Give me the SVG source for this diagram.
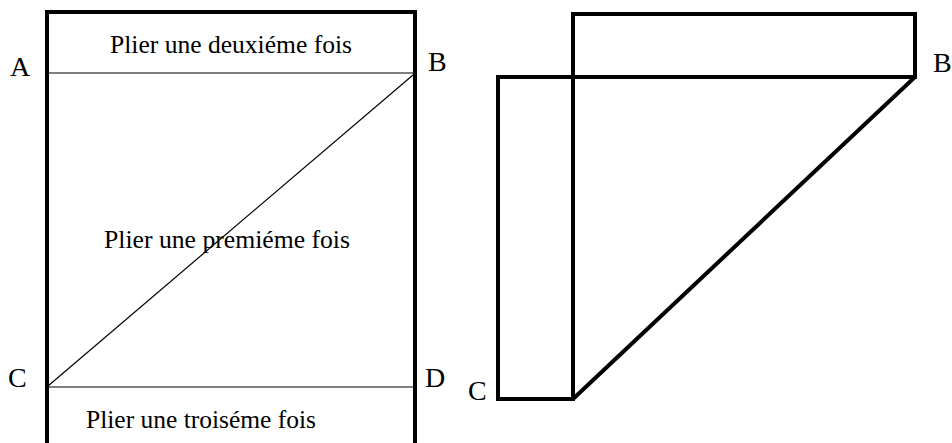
<svg xmlns="http://www.w3.org/2000/svg" width="952" height="443" viewBox="0 0 952 443">
<style>
.t{font-family:"Liberation Serif","Times New Roman",serif;fill:#000}
.lbl{font-size:28px}
.cap{font-size:25px}
.thick{stroke:#000;stroke-width:4;fill:none;stroke-linejoin:miter}
.thin{stroke:#000;stroke-width:1.2;fill:none}
</style>
<rect width="952" height="443" fill="#fff"/>
<g id="sheet">
<path class="thick" d="M47,445 V12 H415 V445"/>
<line class="thin" x1="47" y1="73" x2="415" y2="73"/>
<line class="thin" x1="47" y1="387" x2="415" y2="387" stroke-width="1.6"/>
<line class="thin" x1="48" y1="386" x2="413" y2="75" stroke-width="1"/>
<text class="t cap" x="110" y="53" textLength="242" lengthAdjust="spacingAndGlyphs">Plier une deuxiéme fois</text>
<text class="t cap" x="104" y="248" textLength="246" lengthAdjust="spacingAndGlyphs">Plier une premiéme fois</text>
<text class="t cap" x="86" y="428" textLength="230" lengthAdjust="spacingAndGlyphs">Plier une troiséme fois</text>
<text class="t lbl" x="10" y="76">A</text>
<text class="t lbl" x="428" y="71">B</text>
<text class="t lbl" x="8" y="387">C</text>
<text class="t lbl" x="425" y="387">D</text>
</g>
<g id="folded">
<rect class="thick" x="573" y="14" width="342" height="63"/>
<path class="thick" d="M915,77 H498 V399 H573 V14"/>
<line class="thick" x1="573" y1="399" x2="915" y2="77"/>
<text class="t lbl" x="933" y="72">B</text>
<text class="t lbl" x="468" y="400">C</text>
</g>
</svg>
